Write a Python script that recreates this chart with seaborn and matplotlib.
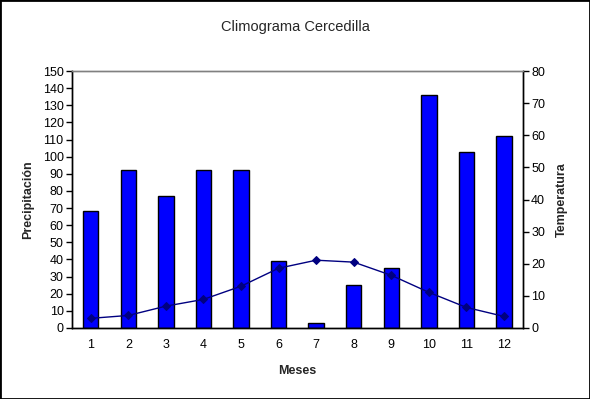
import numpy as np
import matplotlib
matplotlib.use("Agg")
import matplotlib.pyplot as plt
from matplotlib.patches import Rectangle
import seaborn as sns

meses = [1, 2, 3, 4, 5, 6, 7, 8, 9, 10, 11, 12]
precipitacion = [68, 92, 77, 92, 92.5, 39, 3, 25, 35, 136, 103, 112]
temperatura = [3.0, 3.9, 6.8, 8.9, 13.0, 18.6, 21.1, 20.5, 16.4, 11.1, 6.4, 3.6]

sns.set_theme(style="white")
plt.rcParams['font.family'] = ['Liberation Sans', 'DejaVu Sans']

fig = plt.figure(figsize=(5.9, 3.99), dpi=100)
ax = fig.add_axes([0.122, 0.178, 0.764, 0.644])

sns.barplot(x=meses, y=precipitacion, color='#0000FF', saturation=1,
            edgecolor='black', linewidth=1, width=0.41, ax=ax)
ax.set_ylim(0, 150)
ax.set_yticks(range(0, 151, 10))
ax.set_xlim(-0.5, len(meses) - 0.5)

# eje secundario de temperatura
ax2 = ax.twinx()
sns.lineplot(x=np.arange(len(meses)), y=temperatura, color='#000080',
             marker='D', markersize=4.5, markeredgecolor='#000080',
             linewidth=1, ax=ax2)
ax2.set_ylim(0, 80)
ax2.set_yticks(range(0, 81, 10))
ax2.set_xlim(-0.5, len(meses) - 0.5)

# ticks de categorias en los limites
ax.set_xticks(np.arange(len(meses)))
ax.set_xticklabels([str(m) for m in meses])
ax.set_xticks(np.arange(len(meses) + 1) - 0.5, minor=True)
ax.tick_params(axis='x', which='major', length=0, labelsize=9, pad=8, colors='black')
ax.tick_params(axis='x', which='minor', direction='inout', length=6, width=1, color='black')
ax.tick_params(axis='y', direction='out', length=4, width=1, labelsize=9, pad=2,
               colors='black', left=True)
ax2.tick_params(axis='y', direction='out', length=4, width=1, labelsize=9, pad=2,
                colors='black', right=True)

for a in (ax, ax2):
    for s in ('left', 'bottom', 'right'):
        a.spines[s].set_color('black')
        a.spines[s].set_linewidth(1)
    a.spines['top'].set_color('#808080')
    a.spines['top'].set_linewidth(1)
    a.grid(False)

ax.set_xlabel('Meses', fontsize=9, fontweight='bold', labelpad=10)
ax.set_ylabel('Precipitación', fontsize=9, fontweight='bold', labelpad=6)
ax2.set_ylabel('Temperatura', fontsize=9, fontweight='bold', labelpad=8)
fig.text(0.5, 0.932, 'Climograma Cercedilla', ha='center', va='center', fontsize=10.5)

fig.add_artist(Rectangle((0, 0), 1, 1, transform=fig.transFigure, fill=False,
                         edgecolor='black', linewidth=2))

fig.savefig('out.png', dpi=100, facecolor='white')
